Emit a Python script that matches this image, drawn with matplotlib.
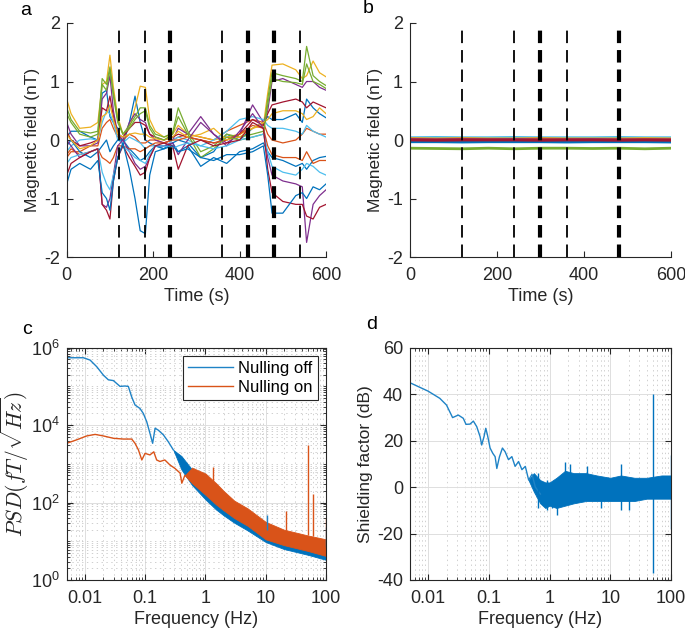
import numpy as np
import matplotlib
matplotlib.use("Agg")
import matplotlib.pyplot as plt
from matplotlib.ticker import FixedLocator, FixedFormatter, LogLocator, NullFormatter

plt.rcParams['font.family'] = ['Liberation Sans', 'DejaVu Sans']
plt.rcParams['mathtext.fontset'] = 'custom'
plt.rcParams['mathtext.rm'] = 'Liberation Sans'
plt.rcParams['mathtext.it'] = 'Liberation Sans:italic'
plt.rcParams['lines.scale_dashes'] = False
plt.rcParams['axes.unicode_minus'] = False

# ---------------- Panel a data ----------------
a_time = [0, 10, 30, 55, 72, 82, 92, 100, 108, 118, 130, 145, 158, 170, 182, 192, 205, 225,
          245, 258, 280, 310, 340, 370, 400, 430, 455, 465, 475, 500, 530, 545, 555, 570, 585, 600]
a_yellow1 = [0.7, 0.45, 0.2, 0.22, 0.3, 0.95, 1.0, 1.45, 0.9, 0.4, 0.1, 0.2, 0.55, 0.92, 0.9, 0.35, 0.15, 0.05,
             0.1, 0.25, 0.1, 0.05, 0.0, 0.05, 0.1, 0.2, 0.25, 0.8, 1.28, 1.3, 1.2, 1.05, 1.1, 1.35, 1.15, 1.08]
a_green1 = [0.55, 0.35, 0.15, 0.12, 0.15, 1.05, 0.95, 1.25, 0.8, 0.35, 0.1, 0.25, 0.4, 0.55, 0.55, 0.25, 0.1, 0.05,
            0.12, 0.55, 0.15, -0.2, -0.1, 0.1, 0.05, 0.1, 0.15, 0.7, 1.15, 1.1, 1.05, 1.0, 1.6, 1.1, 1.0, 0.93]
a_green2 = [0.45, 0.3, 0.1, 0.05, 0.1, 0.95, 0.85, 1.2, 0.75, 0.3, 0.1, 0.2, 0.35, 0.45, 0.5, 0.2, 0.05, 0.0,
            0.1, 0.4, 0.1, -0.3, -0.15, 0.05, 0.0, 0.05, 0.1, 0.6, 1.05, 1.0, 0.98, 0.95, 1.3, 1.0, 0.95, 0.88]
a_purple1 = [0.3, 0.1, -0.1, -0.1, -0.05, 0.7, 0.8, 1.1, 0.5, 0.1, 0.0, 0.3, 0.45, 0.35, 0.3, 0.1, 0.0, -0.05,
             0.0, 0.2, 0.1, 0.4, 0.1, -0.05, 0.1, 0.6, 0.3, 0.5, 1.0, 1.05, 0.95, 0.9, 1.0, 1.0, 0.9, 0.85]
a_darkred1 = [0.15, 0.0, -0.1, -0.05, 0.0, 0.55, 0.5, 0.75, 0.4, 0.1, 0.05, 0.2, 0.3, 0.3, 0.25, 0.1, 0.05, 0.0,
              0.05, 0.1, 0.05, 0.0, -0.05, 0.0, 0.1, 0.35, 0.25, 0.45, 0.6, 0.65, 0.7, 0.65, 0.55, 0.65, 0.6, 0.55]
a_yellow2 = [0.1, 0.0, -0.15, -0.1, 0.0, 0.4, 0.45, 0.6, 0.35, 0.1, 0.05, 0.1, 0.12, 0.1, 0.1, 0.05, 0.02, 0.0,
             0.05, 0.15, 0.05, 0.1, 0.2, 0.0, 0.05, 0.2, 0.3, 0.35, 0.45, 0.5, 0.5, 0.45, 0.35, 0.4, 0.55, 0.45]
a_blue1 = [0.05, 0.15, 0.15, 0.05, 0.0, 0.8, 0.85, 0.4, 0.3, 0.2, -0.1, 0.3, 0.75, 0.3, 0.0, -0.05, -0.1, -0.1,
           -0.05, 0.0, -0.05, -0.3, -0.2, 0.1, 0.0, 0.2, 0.3, 0.4, 0.35, 0.35, 0.45, 0.3, 0.7, 0.55, 0.45, 0.38]
a_lightblue1 = [-0.2, -0.1, 0.0, 0.02, 0.0, 0.3, 0.5, 0.45, 0.3, 0.0, -0.05, 0.05, 0.0, -0.05, -0.15, -0.1, -0.1, -0.15,
                0.0, 0.05, 0.0, -0.1, 0.0, 0.15, 0.35, 0.4, 0.35, 0.25, 0.2, 0.2, 0.15, 0.1, 0.25, 0.15, 0.1, 0.05]
a_orange1 = [-0.3, -0.2, -0.2, -0.1, -0.1, 0.2, 0.3, 0.35, 0.2, 0.05, 0.0, 0.1, 0.05, -0.05, -0.05, 0.0, 0.0, -0.05,
             0.0, 0.05, 0.1, 0.05, 0.0, 0.15, 0.25, 0.35, 0.3, 0.1, 0.0, -0.05, 0.0, 0.1, 0.2, 0.15, 0.1, 0.1]
a_orange2 = [-0.25, -0.15, -0.25, -0.2, -0.15, -0.3, -0.35, -0.4, -0.3, -0.1, -0.1, -0.15, -0.15, -0.2, -0.15, -0.1, -0.05, -0.05,
             0.0, 0.0, 0.05, 0.0, -0.05, 0.0, 0.1, 0.25, 0.2, -0.1, -0.25, -0.3, -0.3, -0.35, -0.2, -0.4, -0.35, -0.35]
a_blue2 = [-0.1, 0.0, -0.2, -0.3, -0.2, -0.1, 0.0, -0.2, -0.1, 0.0, 0.0, -0.15, -0.25, -0.35, -0.3, -0.2, -0.1, -0.15,
           -0.05, -0.2, -0.1, -0.45, -0.3, -0.4, -0.2, -0.15, -0.05, -0.2, -0.3, -0.35, -0.45, -0.4, -0.5, -0.35, -0.3, -0.28]
a_lightblue2 = [-0.4, -0.3, -0.25, -0.2, -0.15, -0.55, -0.75, -0.85, -0.6, -0.3, -0.1, -0.2, -0.3, -0.35, -0.4, -0.25, -0.1, -0.1,
                -0.15, -0.1, -0.05, -0.1, -0.15, -0.1, 0.0, 0.05, 0.1, -0.2, -0.45, -0.55, -0.6, -0.5, -0.4, -0.45, -0.55, -0.6]
a_blue3 = [-0.75, -0.5, -0.4, -0.5, -0.35, -0.9, -1.0, -1.2, -0.7, -0.3, -0.05, -0.5, -1.0, -1.55, -1.6, -0.6, -0.2, -0.15,
           -0.1, -0.2, -0.15, -0.3, -0.35, -0.25, -0.25, -0.2, -0.1, -0.6, -1.25, -1.25, -0.95, -0.9, -1.0, -0.8, -0.85, -0.75]
a_purple2 = [0.0, -0.1, -0.3, -0.2, -0.15, -1.1, -1.15, -1.0, -0.6, -0.1, 0.0, -0.2, -0.4, -0.5, -0.45, -0.3, -0.1, -0.1,
             -0.05, -0.25, 0.0, 0.3, 0.1, -0.1, 0.15, 0.45, 0.2, -0.3, -0.6, -0.7, -0.75, -0.8, -1.75, -1.1, -0.95, -0.85]
a_darkred2 = [-0.6, -0.4, -0.3, -0.2, -0.15, -1.1, -1.2, -1.35, -0.7, -0.3, -0.1, -0.3, -0.45, -0.6, -0.55, -0.3, -0.1, -0.05,
              -0.1, -0.5, -0.1, 0.0, -0.1, -0.05, 0.0, 0.3, 0.2, -0.5, -0.9, -1.05, -1.1, -1.1, -1.3, -1.35, -1.15, -1.1]
a_vlines_thin = [120, 180, 360, 540]
a_vlines_thick = [240, 420, 480]

# ---------------- Panel b data ----------------
b_time = [0, 60, 120, 180, 240, 300, 360, 420, 480, 540, 600]
b_lightblue = [0.04, 0.045, 0.04, 0.04, 0.045, 0.04, 0.04, 0.04, 0.045, 0.04, 0.04]
b_yellow = [0.025, 0.02, 0.025, 0.02, 0.02, 0.025, 0.02, 0.02, 0.02, 0.025, 0.02]
b_orange = [0.015, 0.01, 0.015, 0.01, 0.01, 0.015, 0.01, 0.01, 0.01, 0.01, 0.01]
b_darkred = [0.0, -0.005, 0.0, 0.0, 0.0, -0.005, 0.0, 0.0, -0.005, 0.0, -0.005]
b_blue1 = [-0.015, -0.02, -0.015, -0.02, -0.015, -0.02, -0.015, -0.02, -0.015, -0.02, -0.02]
b_blue2 = [-0.03, -0.03, -0.035, -0.03, -0.03, -0.03, -0.035, -0.03, -0.03, -0.03, -0.035]
b_purple = [0.005, 0.0, 0.005, 0.0, 0.005, 0.0, 0.0, 0.005, 0.0, 0.0, 0.0]
b_green = [-0.14, -0.145, -0.15, -0.14, -0.15, -0.14, -0.14, -0.145, -0.14, -0.15, -0.14]
b_vlines_thin = [120, 240, 360]
b_vlines_thick = [300, 480]

# ---------------- Panel c data (log10 of PSD) ----------------
c_off_freq = [0.005, 0.00944, 0.0122, 0.0157, 0.0203, 0.0245, 0.0297, 0.0383, 0.0463, 0.0526, 0.0597,
              0.0679, 0.082, 0.0933, 0.106, 0.120, 0.133, 0.146, 0.165, 0.2, 0.242, 0.293]
c_off_logpsd = [5.74, 5.74, 5.68, 5.51, 5.29, 5.17, 5.15, 5.0, 5.01, 5.0, 4.73,
                4.52, 4.43, 4.30, 4.09, 3.79, 3.53, 3.92, 3.87, 3.75, 3.57, 3.36]
c_on_freq = [0.005, 0.0073, 0.0107, 0.0148, 0.0203, 0.0297, 0.0435, 0.0597, 0.0679, 0.0773, 0.088,
             0.0995, 0.120, 0.139, 0.155, 0.176, 0.212, 0.258, 0.313, 0.38, 0.405, 0.455]
c_on_logpsd = [3.53, 3.62, 3.72, 3.76, 3.72, 3.66, 3.64, 3.64, 3.53, 3.36, 3.10,
               3.27, 3.23, 3.31, 3.10, 3.06, 3.10, 2.97, 2.88, 2.76, 2.50, 2.70]
c_off_band_freq = [0.293, 0.4, 0.6, 1, 1.5, 2, 3, 5, 10, 20, 50, 100]
c_off_band_low = [3.36, 2.85, 2.45, 2.08, 1.82, 1.67, 1.48, 1.28, 0.98, 0.8, 0.65, 0.52]
c_off_band_high = [3.36, 3.2, 2.85, 2.5, 2.25, 2.05, 1.8, 1.55, 1.25, 1.05, 0.9, 0.8]
c_on_band_freq = [0.455, 0.6, 1, 1.5, 2, 3, 5, 10, 20, 50, 100]
c_on_band_low = [2.7, 2.5, 2.2, 1.95, 1.8, 1.6, 1.4, 1.05, 0.9, 0.75, 0.62]
c_on_band_high = [2.7, 2.9, 2.75, 2.5, 2.3, 2.05, 1.85, 1.5, 1.3, 1.15, 1.05]
c_on_spike_freq = [1.35, 21.6, 50.7, 61.0, 100.0]
c_on_spike_base = [2.55, 1.3, 1.15, 1.13, 1.05]
c_on_spike_top = [2.93, 1.77, 3.49, 2.22, 1.6]
c_off_spike_freq = [10.5, 100.0]
c_off_spike_base = [1.3, 0.85]
c_off_spike_top = [1.68, 1.38]

# ---------------- Panel d data (dB) ----------------
d_freq = [0.005, 0.00993, 0.0155, 0.020, 0.0252, 0.0313, 0.0378, 0.0419, 0.0488, 0.0554, 0.063,
          0.0715, 0.076, 0.083, 0.0887, 0.0945, 0.1045, 0.116, 0.1265, 0.135, 0.149, 0.167,
          0.185, 0.21, 0.239, 0.27, 0.308, 0.35, 0.398, 0.452, 0.513, 0.582, 0.705]
d_sf = [44.9, 41.3, 38.2, 35.3, 29.9, 31.0, 29.6, 27.0, 27.1, 28.4, 26.0,
        21.7, 18.1, 21.7, 25.3, 22.5, 16.8, 14.5, 13.1, 8.0, 13.0, 16.8,
        15.2, 11.8, 13.1, 8.9, 11.0, 7.5, 8.9, 3.0, 5.5, 0.0, -3.0]
d_band_freq = [0.45, 0.55, 0.7, 0.85, 1, 1.3, 1.8, 2.5, 4, 6, 10, 15, 25, 40, 70, 100]
d_band_low = [3, -2, -7, -9, -8, -9, -8, -7, -6, -6, -6, -6, -6, -5, -5, -5]
d_band_high = [3, 6, 3, 2, 2, 4, 7, 6, 6, 5, 4, 5, 4, 4, 5, 5]
d_spike_freq = [0.65, 0.9, 1.1, 1.3, 1.8, 2.2, 4.2, 7.0, 15.0, 20.0, 50.5, 100.0]
d_spike_low = [-9, -10, -9, -12, -5, -6, -5, -9, -10, -10, -37, -18]
d_spike_high = [6, 3, 2, 3, 11, 10, 9, 4, 10, 3, 40, 14]

# ---------------- styling ----------------
C_BLUE = '#0072BD'
C_ORANGE = '#D95319'
C_YELLOW = '#EDB120'
C_PURPLE = '#7E2F8E'
C_GREEN = '#77AC30'
C_LBLUE = '#4DBEEE'
C_DRED = '#A2142F'
AX_COL = '#262626'
FS_TICK = 13
FS_XLAB = 13
FS_YLAB = 12.5

fig = plt.figure(figsize=(6.85, 6.37), dpi=100)
ax_a = fig.add_axes([0.0974, 0.5965, 0.3786, 0.3674])
ax_b = fig.add_axes([0.5985, 0.5965, 0.381, 0.3674])
ax_c = fig.add_axes([0.0974, 0.0895, 0.3786, 0.3647])
ax_d = fig.add_axes([0.5985, 0.0895, 0.381, 0.3647])


def style_common(ax, box):
    for s in ['left', 'bottom', 'top', 'right']:
        ax.spines[s].set_color(AX_COL)
        ax.spines[s].set_linewidth(0.8)
    if not box:
        ax.spines['top'].set_visible(False)
        ax.spines['right'].set_visible(False)
    ax.tick_params(which='both', direction='in', colors=AX_COL, labelsize=FS_TICK,
                   top=box, right=box, labelcolor=AX_COL)
    ax.tick_params(which='major', length=4, width=0.8)
    ax.tick_params(which='minor', length=2, width=0.6)
    ax.tick_params(axis='x', pad=7)
    ax.tick_params(axis='y', pad=5)


def draw_vlines(ax, thin, thick):
    for x in thin:
        ax.plot([x, x], [-2, 1.92], color='k', lw=1.3, dashes=(9, 5))
    for x in thick:
        ax.plot([x, x], [-2, 1.92], color='k', lw=3.0, dashes=(9, 5))


# Panel a
a_series = [(a_blue1, C_BLUE), (a_orange1, C_ORANGE), (a_yellow1, C_YELLOW), (a_purple1, C_PURPLE),
            (a_green1, C_GREEN), (a_lightblue1, C_LBLUE), (a_darkred1, C_DRED),
            (a_blue2, C_BLUE), (a_orange2, C_ORANGE), (a_yellow2, C_YELLOW), (a_purple2, C_PURPLE),
            (a_green2, C_GREEN), (a_lightblue2, C_LBLUE), (a_darkred2, C_DRED), (a_blue3, C_BLUE)]
for vals, col in a_series:
    ax_a.plot(a_time, vals, color=col, lw=0.9)
draw_vlines(ax_a, a_vlines_thin, a_vlines_thick)

# Panel b
b_series = [(b_blue2, C_BLUE), (b_lightblue, C_LBLUE), (b_yellow, C_YELLOW), (b_orange, C_ORANGE),
            (b_purple, C_PURPLE), (b_blue1, C_BLUE), (b_darkred, C_DRED), (b_green, C_GREEN)]
for vals, col in b_series:
    ax_b.plot(b_time, vals, color=col, lw=2.0)
draw_vlines(ax_b, b_vlines_thin, b_vlines_thick)

for ax in (ax_a, ax_b):
    style_common(ax, box=False)
    ax.set_xlim(0, 600)
    ax.set_ylim(-2, 2)
    ax.set_xticks([0, 200, 400, 600])
    ax.set_yticks([-2, -1, 0, 1, 2])
    ax.set_xlabel('Time (s)', fontsize=FS_XLAB, color=AX_COL, labelpad=3)
    ax.set_ylabel('Magnetic field (nT)', fontsize=FS_YLAB, color=AX_COL, labelpad=3)

# Panel c
ax_c.set_xscale('log')
ax_c.set_yscale('log')
off_col = '#1F83C6'
on_col = '#D95319'
ax_c.fill_between(c_off_band_freq, 10 ** np.array(c_off_band_low), 10 ** np.array(c_off_band_high),
                  color=C_BLUE, lw=0.6, edgecolor=C_BLUE)
ax_c.plot(c_off_freq, 10 ** np.array(c_off_logpsd), color=off_col, lw=1.0, label='Nulling off')
ax_c.vlines(c_off_spike_freq, 10 ** np.array(c_off_spike_base),
            10 ** np.array(c_off_spike_top), color=off_col, lw=1.0)
ax_c.fill_between(c_on_band_freq, 10 ** np.array(c_on_band_low), 10 ** np.array(c_on_band_high),
                  color=on_col, lw=0.6, edgecolor=on_col)
ax_c.plot(c_on_freq, 10 ** np.array(c_on_logpsd), color=on_col, lw=1.0, label='Nulling on')
ax_c.vlines(c_on_spike_freq, 10 ** np.array(c_on_spike_base),
            10 ** np.array(c_on_spike_top), color=on_col, lw=1.0)
ax_c.set_ylim(1, 1e6)
ax_c.yaxis.set_major_locator(FixedLocator([1, 1e2, 1e4, 1e6]))
ax_c.yaxis.set_major_formatter(FixedFormatter([r'$10^0$', r'$10^2$', r'$10^4$', r'$10^6$']))
ax_c.yaxis.set_minor_locator(LogLocator(base=10, subs=np.arange(1, 10), numticks=30))
ax_c.yaxis.set_minor_formatter(NullFormatter())
ax_c.set_ylabel(r'$PSD(fT/\sqrt{Hz})$', fontsize=15.5, color=AX_COL, math_fontfamily='cm', labelpad=0)
leg = ax_c.legend(loc='upper right', fontsize=12, frameon=True, fancybox=False,
                  borderpad=0.3, handlelength=2.7, handletextpad=0.3, labelspacing=0.25,
                  borderaxespad=0.5)
leg.get_frame().set_edgecolor(AX_COL)
leg.get_frame().set_linewidth(0.8)
leg.get_frame().set_alpha(1)

# Panel d
ax_d.set_xscale('log')
ax_d.fill_between(d_band_freq, d_band_low, d_band_high, color=C_BLUE, lw=0.6, edgecolor=C_BLUE)
ax_d.plot(d_freq, d_sf, color='#1F83C6', lw=1.0)
ax_d.vlines(d_spike_freq, d_spike_low, d_spike_high, color=C_BLUE, lw=1.0)
ax_d.set_ylim(-40, 60)
ax_d.set_yticks([-40, -20, 0, 20, 40, 60])
ax_d.set_ylabel('Shielding factor (dB)', fontsize=FS_YLAB, color=AX_COL, labelpad=3)

for ax in (ax_c, ax_d):
    style_common(ax, box=True)
    ax.set_xlim(0.005, 100)
    ax.xaxis.set_major_locator(FixedLocator([0.01, 0.1, 1, 10, 100]))
    ax.xaxis.set_major_formatter(FixedFormatter(['0.01', '0.1', '1', '10', '100']))
    ax.xaxis.set_minor_locator(LogLocator(base=10, subs=np.arange(2, 10), numticks=30))
    ax.xaxis.set_minor_formatter(NullFormatter())
    ax.set_xlabel('Frequency (Hz)', fontsize=FS_XLAB, color=AX_COL, labelpad=3)
    ax.grid(True, which='major', color='#DEDEDE', lw=0.7, linestyle='-')
    ax.grid(True, which='minor', color='#C8C8C8', lw=0.6, linestyle=(0, (1, 2.5)))
    ax.set_axisbelow(True)
ax_d.yaxis.grid(True, which='major', color='#DEDEDE', lw=0.7)

# Panel labels
fig.text(0.038, 0.984, 'a', fontsize=14, va='center', ha='center', color='k')
fig.text(0.537, 0.986, 'b', fontsize=14, va='center', ha='center', color='k')
fig.text(0.039, 0.4835, 'c', fontsize=14, va='center', ha='center', color='k')
fig.text(0.543, 0.490, 'd', fontsize=14, va='center', ha='center', color='k')

fig.savefig('out.png', dpi=100)
